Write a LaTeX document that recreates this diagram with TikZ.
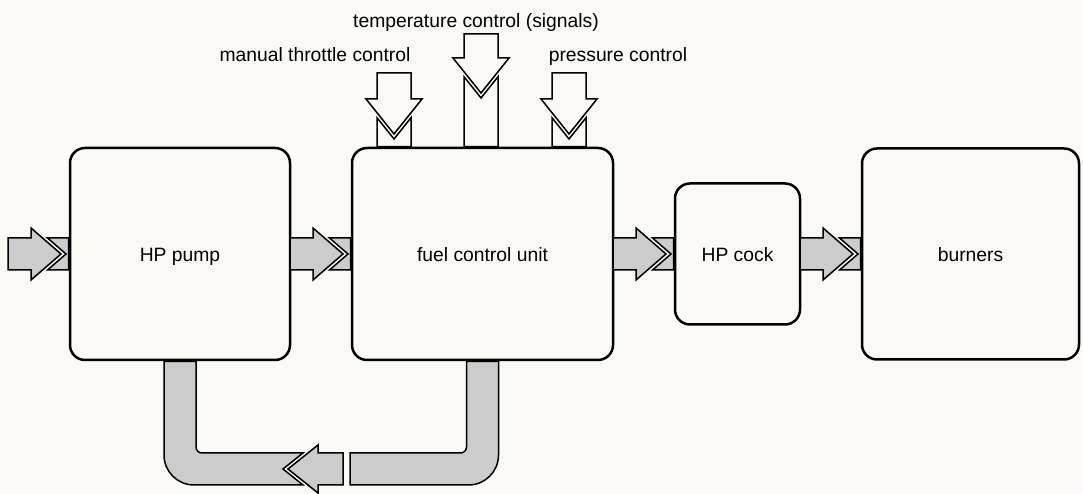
\documentclass[tikz,border=0pt]{standalone}
\usepackage{fontspec}
\setmainfont{Liberation Sans}
\usetikzlibrary{positioning,calc}
\definecolor{paper}{RGB}{250,249,245}

% fat flow arrow pointing right, with the notched stub in front of the box
\newcommand{\flowright}[2]{%
  \draw[pipe] let \p1=(#1), \p2=(#2) in
    (\x1,\y1+16pt) -- (\x2-39pt,\y1+16pt) -- (\x2-39pt,\y1+26pt) -- (\x2-9pt,\y1)
    -- (\x2-39pt,\y1-26pt) -- (\x2-39pt,\y1-16pt) -- (\x1,\y1-16pt) -- cycle
    (\x2-1.3pt,\y1+16pt) -- (\x2-22.5pt,\y1+16pt) -- (\x2-4pt,\y1)
    -- (\x2-22.5pt,\y1-16pt) -- (\x2-1.3pt,\y1-16pt) -- cycle;}
% open arrow pointing down onto a box, #3 = gap between tip and box
\newcommand{\flowdown}[3]{%
  \draw[signal] let \p1=(#1), \p2=(#2) in
    (\x1-17pt,\y1) -- (\x1-17pt,\y2+#3+35pt) -- (\x1-28pt,\y2+#3+35pt) -- (\x1,\y2+#3)
    -- (\x1+28pt,\y2+#3+35pt) -- (\x1+17pt,\y2+#3+35pt) -- (\x1+17pt,\y1) -- cycle
    (\x1-17pt,\y2+1.3pt) -- (\x1-17pt,\y2+#3+16.25pt) -- (\x1,\y2+#3-5pt)
    -- (\x1+17pt,\y2+#3+16.25pt) -- (\x1+17pt,\y2+1.3pt) -- cycle;}

\begin{document}
\begin{tikzpicture}[x=1pt,y=1pt,font=\fontsize{19.3}{23}\selectfont,node distance=62pt,
  unit/.style={draw,line width=2.5pt,rounded corners=15pt,outer sep=0pt,text height=16pt,text depth=0pt},
  pipe/.style={draw,line width=1.5pt,fill=black!20,line join=miter},
  signal/.style={draw,line width=1.5pt,fill=paper,line join=miter}]
  \path[use as bounding box,fill=paper] (0,0) rectangle (1083,494);

  \node[unit,minimum width=220pt,minimum height=212pt] (pump) at (180,240) {HP pump};
  \node[unit,minimum width=261pt,minimum height=212pt,right=of pump] (fcu) {fuel control unit};
  \node[unit,minimum width=125pt,minimum height=141pt,right=of fcu] (cock) {HP cock};
  \node[unit,minimum width=217pt,minimum height=211pt,right=of cock] (burn) {burners};

  \node[anchor=base] (thrtxt) at (315,432) {manual throttle control};
  \node[anchor=base] (temptxt) at (476,466) {temperature control (signals)};
  \node[anchor=base] (prestxt) at (618,432) {pressure control};

  \coordinate (in) at (8,240);
  \coordinate (thr) at (394,421);
  \coordinate (temp) at (481,460);
  \coordinate (pres) at (569,421);
  \coordinate (back) at (288,25);

  % main fuel line
  \flowright{in}{pump.west}
  \flowright{pump.east}{fcu.west}
  \flowright{fcu.east}{cock.west}
  \flowright{cock.east}{burn.west}

  % control inputs
  \flowdown{thr}{thr |- fcu.north}{14pt}
  \flowdown{temp}{temp |- fcu.north}{55pt}
  \flowdown{pres}{pres |- fcu.north}{14pt}

  % spill return from the fuel control unit to the pump
  \draw[pipe] let \p1=(fcu.south), \p2=(back) in
    (\x1-16pt,\y1-1.3pt) -- (\x1-16pt,\y2+22pt) arc[start angle=0,end angle=-90,radius=6pt]
    -- (\x2+62pt,\y2+16pt) -- (\x2+62pt,\y2-16pt) -- (\x1-14pt,\y2-16pt)
    arc[start angle=-90,end angle=0,radius=30pt] -- (\x1+16pt,\y1-1.3pt) -- cycle;
  \draw[pipe] let \p2=(back) in
    (\x2+55pt,\y2+16pt) -- (\x2+30pt,\y2+16pt) -- (\x2+30pt,\y2+24pt) -- (\x2,\y2)
    -- (\x2+30pt,\y2-24pt) -- (\x2+30pt,\y2-16pt) -- (\x2+55pt,\y2-16pt) -- cycle;
  \draw[pipe] let \p1=(pump.south), \p2=(back) in
    (\x1+16pt,\y1-1.3pt) -- (\x1+16pt,\y2+22pt) arc[start angle=180,end angle=270,radius=6pt]
    -- (\x2+15pt,\y2+16pt) -- (\x2-5pt,\y2) -- (\x2+15pt,\y2-16pt) -- (\x1+14pt,\y2-16pt)
    arc[start angle=270,end angle=180,radius=30pt] -- (\x1-16pt,\y1-1.3pt) -- cycle;
\end{tikzpicture}
\end{document}
